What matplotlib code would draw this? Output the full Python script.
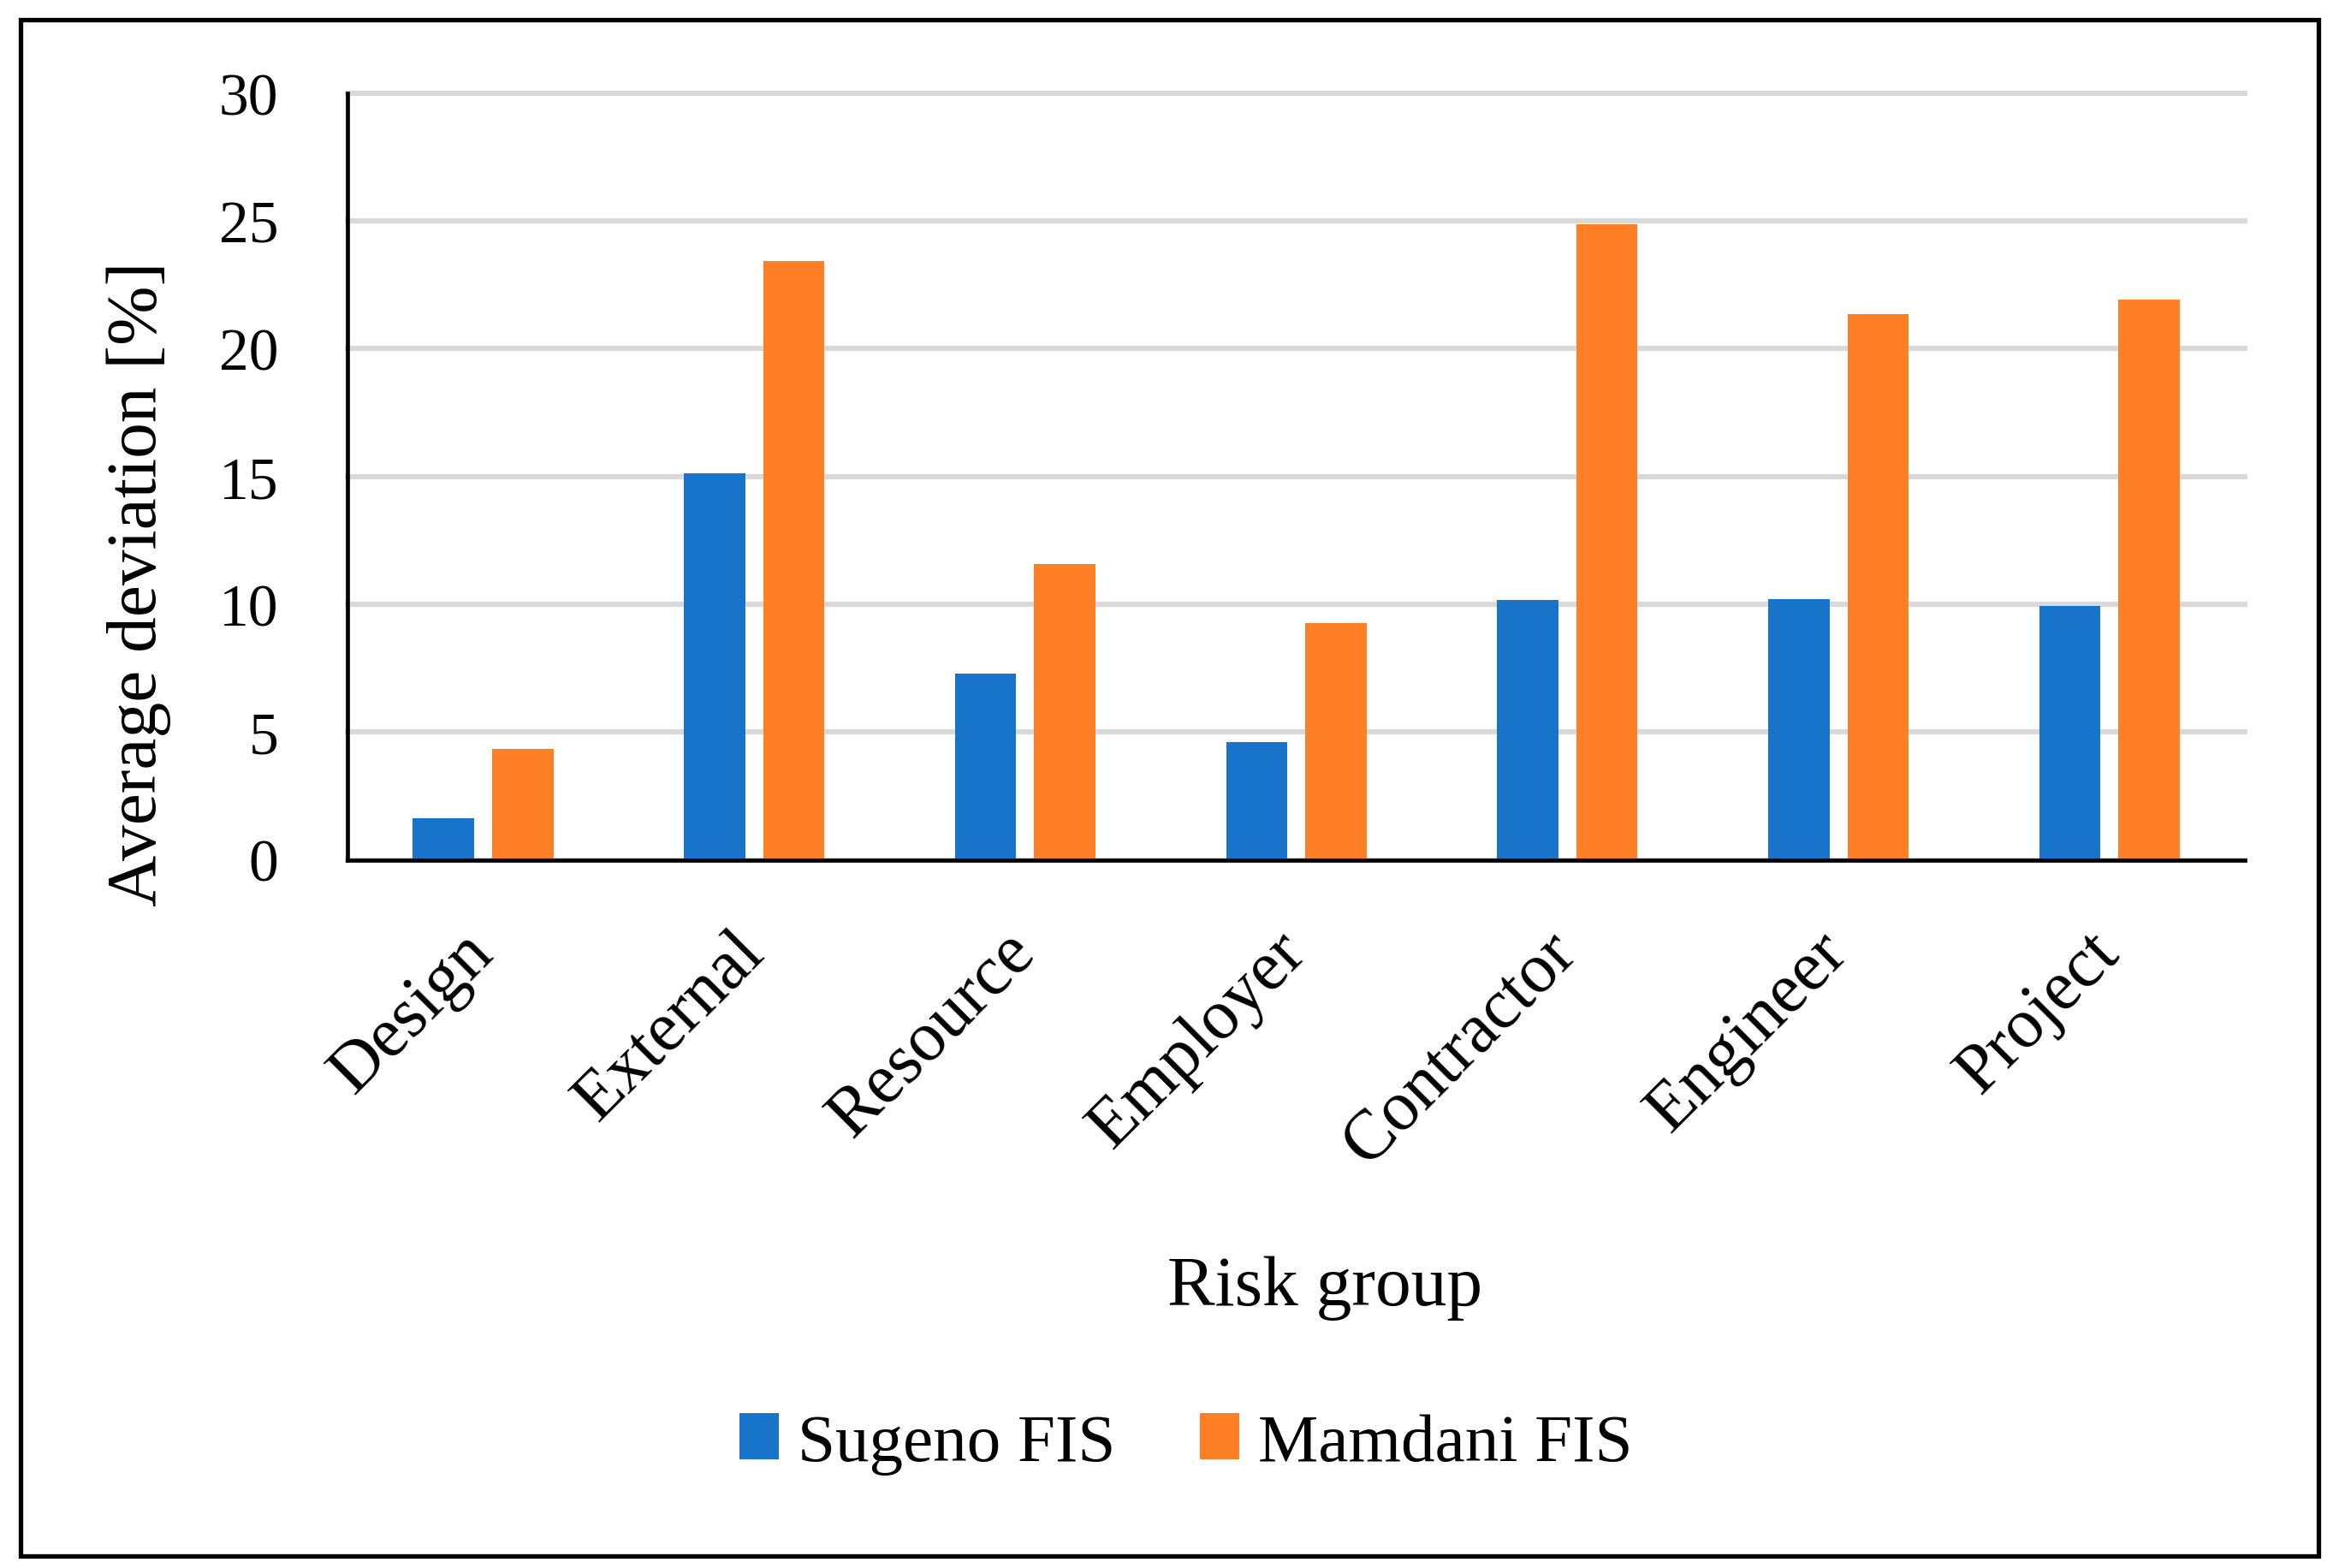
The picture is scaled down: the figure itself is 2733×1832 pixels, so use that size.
import matplotlib
matplotlib.use("Agg")
import matplotlib.pyplot as plt
import matplotlib.transforms as mtransforms
from matplotlib.patches import Rectangle
import numpy as np

categories = ["Design", "External", "Resource", "Employer", "Contractor", "Engineer", "Project"]
sugeno = [1.62, 15.12, 7.29, 4.61, 10.16, 10.19, 9.95]
mamdani = [4.35, 23.42, 11.56, 9.28, 24.89, 21.35, 21.91]
series_names = ["Sugeno FIS", "Mamdani FIS"]
yticks = [0, 5, 10, 15, 20, 25, 30]

blue = "#1874C9"
orange = "#FF7F27"
FONT = "Liberation Serif"
plt.rcParams["font.family"] = [FONT, "DejaVu Serif"]

W, H = 1568.0, 1050.0  # reference display coordinates
fig = plt.figure(figsize=(27.33, 18.33), dpi=100)
ax = fig.add_axes([233 / W, 1 - 576 / H, (1505 - 233) / W, (576 - 63) / H])

x = np.arange(len(categories))
bw = 0.226
off = 0.146
ax.bar(x - off, sugeno, bw, color=blue, label=series_names[0], zorder=3)
ax.bar(x + off, mamdani, bw, color=orange, label=series_names[1], zorder=3)

ax.set_xlim(-0.5, len(categories) - 0.5)
ax.set_ylim(0, 30)
ax.set_yticks(yticks)
ax.set_yticklabels([str(v) for v in yticks], fontsize=50)
ax.set_xticks(x)
ax.set_xticklabels(categories, fontsize=59, rotation=45, ha="right", va="top")
ax.tick_params(axis="y", length=0, pad=58)
ax.tick_params(axis="x", length=0, pad=50)
shift = mtransforms.ScaledTranslation(19 / 72, 0, fig.dpi_scale_trans)
for lab in ax.get_xticklabels():
    lab.set_transform(lab.get_transform() + shift)

ax.grid(axis="y", color="#d9d9d9", linewidth=4.4, zorder=0)
ax.set_axisbelow(True)
for gl in ax.get_ygridlines():
    gl.set_clip_on(False)
for s in ["top", "right"]:
    ax.spines[s].set_visible(False)
for s in ["left", "bottom"]:
    ax.spines[s].set_linewidth(3.4)
    ax.spines[s].set_color("black")
    ax.spines[s].set_zorder(5)

fig.text(93 / W, 1 - 391 / H, "Average deviation [%]", rotation=90,
         ha="center", va="center", fontsize=60)
fig.text(888 / W, 1 - 862 / H, "Risk group", ha="center", va="center", fontsize=60)

fig.legend(loc="center", bbox_to_anchor=(795 / W, 1 - 967 / H), ncol=2,
           frameon=False, fontsize=57, handlelength=0.58, handleheight=0.66,
           handletextpad=0.28, columnspacing=1.25)

fig.patches.append(Rectangle((14 / W, 1 - 1042 / H), (1554 - 14) / W, (1042 - 14) / H,
                             transform=fig.transFigure, fill=False,
                             edgecolor="black", linewidth=3.8))

fig.savefig("out.png", dpi=100, facecolor="white")
